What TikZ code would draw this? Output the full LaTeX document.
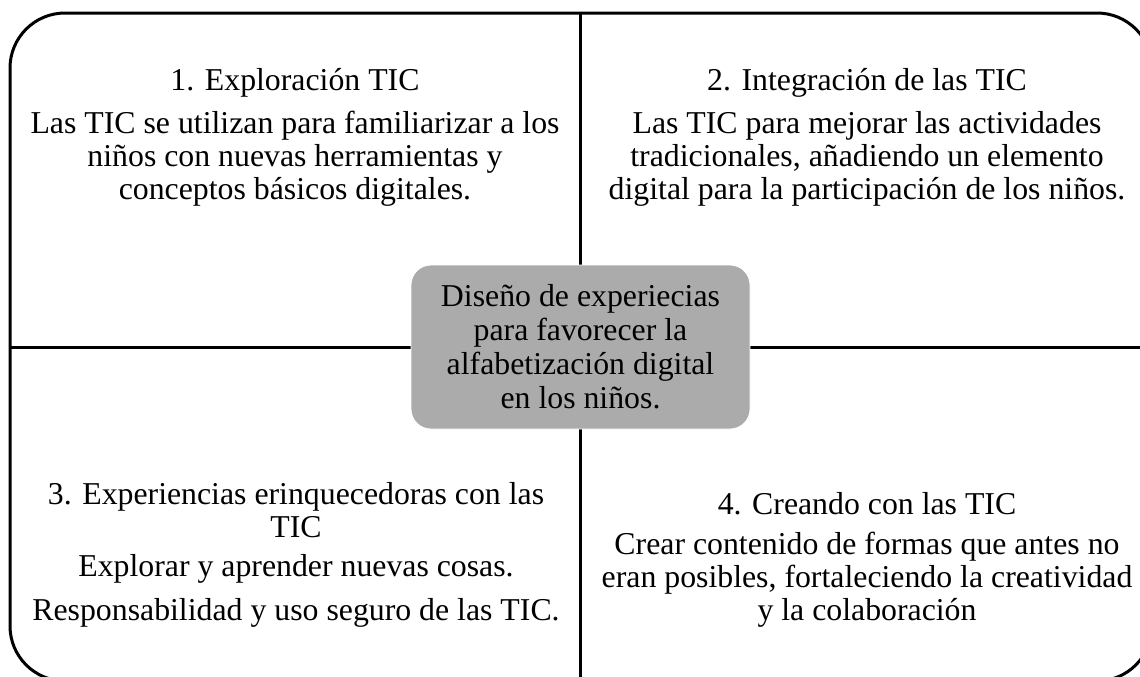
\documentclass[tikz,border=0pt]{standalone}
\usepackage{fontspec}
\setmainfont{Liberation Serif}
\tikzstyle{quadtext}=[align=center,inner sep=0pt,font=\fontsize{15.9}{16.4}\selectfont]
\tikzstyle{centrebox}=[quadtext,fill={rgb,255:red,171;green,171;blue,171},draw=white,line width=0.4pt,
	rounded corners=10pt,minimum width=169.5pt,minimum height=82pt]

\begin{document}
\begin{tikzpicture}[x=0.5pt,y=-0.5pt,line width=1.5pt]
\useasboundingbox (0,0) rectangle (1140,676);
\clip (0,0) rectangle (1140,676);
% marco y divisiones
\draw[rounded corners=27.5pt] (10,13) rectangle (1152,681);
\draw (580,13) -- (580,681)
	(10,347) -- (1152,347);
\node[centrebox,font=\fontsize{15.9}{17}\selectfont] (centro) at (580.5,347) {Diseño de experiecias\\para favorecer la\\alfabetización digital\\en los niños.};
% cuadrantes
\node[quadtext] (q1title) at (295,83) {1. Exploración TIC};
\node[quadtext] (q1body) at (295,159) {Las TIC se utilizan para familiarizar a los\\niños con nuevas herramientas y\\conceptos básicos digitales.};
\node[quadtext] (q2title) at (867,83) {2. Integración de las TIC};
\node[quadtext] (q2body) at (867,159) {Las TIC para mejorar las actividades\\tradicionales, añadiendo un elemento\\digital para la participación de los niños.};
\node[quadtext] (q3title) at (296,510) {3. Experiencias erinquecedoras con las\\TIC};
\node[quadtext] (q3bodya) at (296,569) {Explorar y aprender nuevas cosas.};
\node[quadtext] (q3bodyb) at (296,613) {Responsabilidad y uso seguro de las TIC.};
\node[quadtext] (q4title) at (867,504) {4. Creando con las TIC};
\node[quadtext] (q4body) at (867,580) {Crear contenido de formas que antes no\\eran posibles, fortaleciendo la creatividad\\y la colaboración};
\end{tikzpicture}
\end{document}
